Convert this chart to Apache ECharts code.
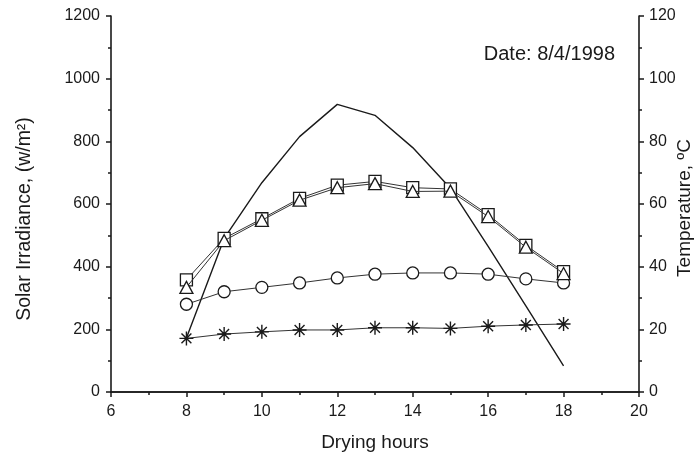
<!DOCTYPE html>
<html>
<head>
<meta charset="utf-8">
<script src="https://cdn.jsdelivr.net/npm/echarts@6/dist/echarts.min.js"></script>
<style>
html,body{margin:0;padding:0;background:#fff;}
#c{width:694px;height:457px;}
</style>
</head>
<body>
<div id="c"></div>
<script>
const hours = [8, 9, 10, 11, 12, 13, 14, 15, 16, 17, 18];
const irradiance = [172, 490, 668, 815, 918, 883, 780, 650, 465, 275, 83];
const squareTemp = [35.8, 49.0, 55.3, 61.8, 66.0, 67.2, 65.2, 64.8, 56.6, 46.8, 38.4];
const triangleTemp = [33.4, 48.3, 54.8, 61.2, 65.2, 66.5, 64.0, 64.1, 56.0, 46.2, 37.8];
const circleTemp = [28.0, 32.0, 33.4, 34.8, 36.4, 37.6, 38.0, 38.0, 37.6, 36.1, 34.8];
const starTemp = [17.1, 18.5, 19.2, 19.8, 19.8, 20.5, 20.5, 20.3, 21.0, 21.4, 21.7];
const dateText = 'Date: 8/4/1998';

const FONT = 'Liberation Sans, Arial, sans-serif';
const INK = '#1a1a1a';
const pairs = (arr) => hours.map((h, i) => [h, arr[i]]);
const starPath = 'path://M0,-10L0,10M-10,0L10,0M-7.07,-7.07L7.07,7.07M-7.07,7.07L7.07,-7.07';
const plain = (v) => String(v);

const chart = echarts.init(document.getElementById('c'), null, {renderer: 'canvas'});
const axisLineStyle = {color: INK, width: 1.6};
chart.setOption({
  animation: false,
  backgroundColor: '#fff',
  grid: {left: 111, right: 55, top: 16, bottom: 65, outerBoundsMode: 'none', containLabel: false},
  xAxis: [{
    type: 'value', min: 6, max: 20, interval: 2,
    name: 'Drying hours', nameLocation: 'middle', nameGap: 41,
    nameTextStyle: {fontFamily: FONT, fontSize: 19, color: INK},
    axisLine: {show: true, lineStyle: axisLineStyle},
    axisTick: {show: true, inside: false, length: 5, lineStyle: {color: INK, width: 1.5}},
    minorTick: {show: true, splitNumber: 2, length: 3, lineStyle: {color: INK, width: 1.5}},
    axisLabel: {fontFamily: FONT, fontSize: 16, color: INK, margin: 12, formatter: plain},
    splitLine: {show: false}
  }, {
    type: 'value', min: 6, max: 20, position: 'top',
    axisLine: {show: true, lineStyle: axisLineStyle},
    axisTick: {show: false}, axisLabel: {show: false}, splitLine: {show: false}
  }],
  yAxis: [{
    type: 'value', min: 0, max: 1200, interval: 200,
    name: 'Solar Irradiance, (w/m²)', nameLocation: 'middle', nameGap: 76,
    nameTextStyle: {fontFamily: FONT, fontSize: 19.5, color: INK, padding: [0, 0, 0, -30]},
    axisLine: {show: true, lineStyle: axisLineStyle},
    axisTick: {show: true, inside: false, length: 5, lineStyle: {color: INK, width: 1.5}},
    minorTick: {show: true, splitNumber: 2, length: 3, lineStyle: {color: INK, width: 1.5}},
    axisLabel: {fontFamily: FONT, fontSize: 16, color: INK, margin: 11, formatter: plain},
    splitLine: {show: false}
  }, {
    type: 'value', min: 0, max: 120, interval: 20, position: 'right',
    name: 'Temperature, ºC', nameLocation: 'middle', nameGap: 36, nameRotate: 90,
    nameMoveOverlap: false,
    nameTextStyle: {fontFamily: FONT, fontSize: 19, color: INK, padding: [0, 0, 0, -8]},
    axisLine: {show: true, lineStyle: axisLineStyle},
    axisTick: {show: true, inside: false, length: 5, lineStyle: {color: INK, width: 1.5}},
    minorTick: {show: true, splitNumber: 2, length: 3, lineStyle: {color: INK, width: 1.5}},
    axisLabel: {fontFamily: FONT, fontSize: 16, color: INK, margin: 10, formatter: plain},
    splitLine: {show: false}
  }],
  graphic: [{
    type: 'text', right: 79, top: 44,
    style: {text: dateText, font: '20px ' + FONT, fill: INK}
  }],
  series: [{
    name: 'Irradiance', type: 'line', xAxisIndex: 0, yAxisIndex: 0,
    data: pairs(irradiance), showSymbol: false, symbol: 'none',
    lineStyle: {color: INK, width: 1.4}, z: 2
  }, {
    name: 'Square', type: 'line', xAxisIndex: 0, yAxisIndex: 1,
    data: pairs(squareTemp), symbol: 'rect', symbolSize: 12,
    lineStyle: {color: '#333', width: 1},
    itemStyle: {color: '#fff', borderColor: INK, borderWidth: 1.3}, z: 3
  }, {
    name: 'Triangle', type: 'line', xAxisIndex: 0, yAxisIndex: 1,
    data: pairs(triangleTemp), symbol: 'triangle', symbolSize: [13, 12],
    lineStyle: {color: '#333', width: 1},
    itemStyle: {color: '#fff', borderColor: INK, borderWidth: 1.3}, z: 4
  }, {
    name: 'Circle', type: 'line', xAxisIndex: 0, yAxisIndex: 1,
    data: pairs(circleTemp), symbol: 'circle', symbolSize: 12,
    lineStyle: {color: '#333', width: 1},
    itemStyle: {color: '#fff', borderColor: INK, borderWidth: 1.3}, z: 3
  }, {
    name: 'Star', type: 'line', xAxisIndex: 0, yAxisIndex: 1,
    data: pairs(starTemp), symbol: starPath, symbolSize: 14,
    lineStyle: {color: '#333', width: 1},
    itemStyle: {color: 'none', borderColor: INK, borderWidth: 1.4}, z: 3
  }]
});
</script>
</body>
</html>
